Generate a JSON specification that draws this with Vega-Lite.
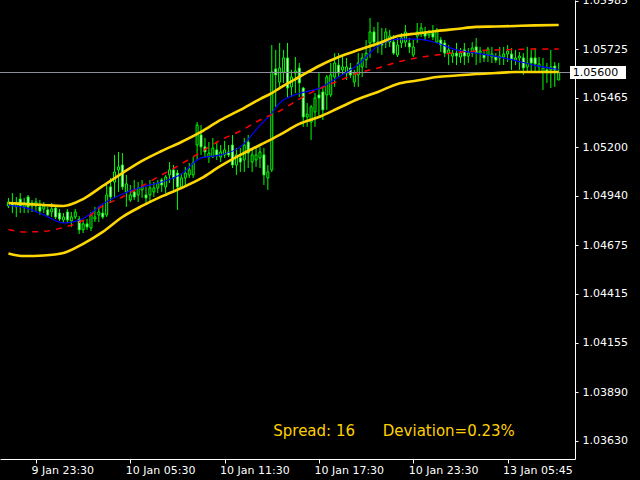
{
  "$schema": "https://vega.github.io/schema/vega-lite/v6.json",
  "width": 575,
  "height": 459,
  "padding": {"left": 0, "top": 0, "right": 65, "bottom": 21},
  "autosize": {"type": "none"},
  "background": "black",
  "config": {"view": {"stroke": null}, "font": "DejaVu Sans"},
  "datasets": {
    "candles": [
      {"i":1,"o":1.04886,"h":1.04929,"l":1.04875,"c":1.04907},
      {"i":2,"o":1.04902,"h":1.04955,"l":1.04848,"c":1.04886},
      {"i":3,"o":1.04881,"h":1.04934,"l":1.04827,"c":1.04902},
      {"i":4,"o":1.04923,"h":1.04955,"l":1.04848,"c":1.04886},
      {"i":5,"o":1.04881,"h":1.04929,"l":1.04848,"c":1.04902},
      {"i":6,"o":1.04934,"h":1.04945,"l":1.04848,"c":1.04881},
      {"i":7,"o":1.04886,"h":1.04918,"l":1.04854,"c":1.04902},
      {"i":8,"o":1.04886,"h":1.04929,"l":1.04854,"c":1.04907},
      {"i":9,"o":1.04881,"h":1.04918,"l":1.04838,"c":1.04859},
      {"i":10,"o":1.04870,"h":1.04907,"l":1.04848,"c":1.04886},
      {"i":11,"o":1.04865,"h":1.04881,"l":1.04827,"c":1.04838},
      {"i":12,"o":1.04854,"h":1.04902,"l":1.04827,"c":1.04870},
      {"i":13,"o":1.04875,"h":1.04886,"l":1.04816,"c":1.04827},
      {"i":14,"o":1.04848,"h":1.04870,"l":1.04806,"c":1.04816},
      {"i":15,"o":1.04811,"h":1.04848,"l":1.04795,"c":1.04827},
      {"i":16,"o":1.04854,"h":1.04870,"l":1.04795,"c":1.04811},
      {"i":17,"o":1.04806,"h":1.04854,"l":1.04774,"c":1.04827},
      {"i":18,"o":1.04827,"h":1.04870,"l":1.04816,"c":1.04854},
      {"i":19,"o":1.04816,"h":1.04832,"l":1.04736,"c":1.04758},
      {"i":20,"o":1.04758,"h":1.04811,"l":1.04741,"c":1.04790},
      {"i":21,"o":1.04790,"h":1.04816,"l":1.04758,"c":1.04774},
      {"i":22,"o":1.04768,"h":1.04854,"l":1.04752,"c":1.04838},
      {"i":23,"o":1.04816,"h":1.04881,"l":1.04800,"c":1.04827},
      {"i":24,"o":1.04838,"h":1.04886,"l":1.04800,"c":1.04854},
      {"i":25,"o":1.04848,"h":1.04891,"l":1.04816,"c":1.04827},
      {"i":26,"o":1.04838,"h":1.04998,"l":1.04827,"c":1.04945},
      {"i":27,"o":1.04988,"h":1.05036,"l":1.04902,"c":1.04934},
      {"i":28,"o":1.05014,"h":1.05159,"l":1.04929,"c":1.05068},
      {"i":29,"o":1.05079,"h":1.05175,"l":1.04961,"c":1.05095},
      {"i":30,"o":1.05105,"h":1.05169,"l":1.04972,"c":1.04988},
      {"i":31,"o":1.04961,"h":1.05052,"l":1.04881,"c":1.05004},
      {"i":32,"o":1.04918,"h":1.04998,"l":1.04907,"c":1.04945},
      {"i":33,"o":1.04961,"h":1.05025,"l":1.04918,"c":1.04934},
      {"i":34,"o":1.04945,"h":1.05014,"l":1.04907,"c":1.04982},
      {"i":35,"o":1.04972,"h":1.05025,"l":1.04929,"c":1.04988},
      {"i":36,"o":1.04945,"h":1.04988,"l":1.04902,"c":1.04929},
      {"i":37,"o":1.04945,"h":1.05025,"l":1.04902,"c":1.04982},
      {"i":38,"o":1.04961,"h":1.05014,"l":1.04934,"c":1.04982},
      {"i":39,"o":1.04982,"h":1.05025,"l":1.04955,"c":1.05009},
      {"i":40,"o":1.05025,"h":1.05036,"l":1.04961,"c":1.04998},
      {"i":41,"o":1.04988,"h":1.05052,"l":1.04955,"c":1.05041},
      {"i":42,"o":1.05052,"h":1.05121,"l":1.05009,"c":1.05079},
      {"i":43,"o":1.05079,"h":1.05105,"l":1.04972,"c":1.05036},
      {"i":44,"o":1.05062,"h":1.05079,"l":1.04865,"c":1.04988},
      {"i":45,"o":1.04988,"h":1.05062,"l":1.04982,"c":1.05036},
      {"i":46,"o":1.05036,"h":1.05095,"l":1.04988,"c":1.05062},
      {"i":47,"o":1.05052,"h":1.05116,"l":1.05036,"c":1.05079},
      {"i":48,"o":1.05052,"h":1.05148,"l":1.05036,"c":1.05116},
      {"i":49,"o":1.05212,"h":1.05335,"l":1.05132,"c":1.05319},
      {"i":50,"o":1.05266,"h":1.05319,"l":1.05159,"c":1.05202},
      {"i":51,"o":1.05202,"h":1.05250,"l":1.05148,"c":1.05175},
      {"i":52,"o":1.05148,"h":1.05228,"l":1.05116,"c":1.05169},
      {"i":53,"o":1.05148,"h":1.05250,"l":1.05143,"c":1.05196},
      {"i":54,"o":1.05186,"h":1.05228,"l":1.05132,"c":1.05159},
      {"i":55,"o":1.05148,"h":1.05212,"l":1.05121,"c":1.05175},
      {"i":56,"o":1.05159,"h":1.05234,"l":1.05143,"c":1.05186},
      {"i":57,"o":1.05175,"h":1.05212,"l":1.05148,"c":1.05159},
      {"i":58,"o":1.05212,"h":1.05266,"l":1.05089,"c":1.05105},
      {"i":59,"o":1.05105,"h":1.05196,"l":1.05052,"c":1.05159},
      {"i":60,"o":1.05143,"h":1.05196,"l":1.05068,"c":1.05121},
      {"i":61,"o":1.05132,"h":1.05250,"l":1.05068,"c":1.05212},
      {"i":62,"o":1.05228,"h":1.05266,"l":1.05089,"c":1.05169},
      {"i":63,"o":1.05121,"h":1.05186,"l":1.05068,"c":1.05159},
      {"i":64,"o":1.05132,"h":1.05196,"l":1.05095,"c":1.05159},
      {"i":65,"o":1.05143,"h":1.05202,"l":1.05089,"c":1.05175},
      {"i":66,"o":1.05159,"h":1.05196,"l":1.04998,"c":1.05052},
      {"i":67,"o":1.05036,"h":1.05105,"l":1.04972,"c":1.05068},
      {"i":68,"o":1.05079,"h":1.05747,"l":1.05068,"c":1.05603},
      {"i":69,"o":1.05619,"h":1.05721,"l":1.05416,"c":1.05587},
      {"i":70,"o":1.05549,"h":1.05758,"l":1.05523,"c":1.05624},
      {"i":71,"o":1.05603,"h":1.05721,"l":1.05544,"c":1.05678},
      {"i":72,"o":1.05678,"h":1.05758,"l":1.05469,"c":1.05517},
      {"i":73,"o":1.05523,"h":1.05614,"l":1.05469,"c":1.05576},
      {"i":74,"o":1.05597,"h":1.05683,"l":1.05490,"c":1.05608},
      {"i":75,"o":1.05624,"h":1.05651,"l":1.05469,"c":1.05544},
      {"i":76,"o":1.05517,"h":1.05523,"l":1.05309,"c":1.05362},
      {"i":77,"o":1.05362,"h":1.05437,"l":1.05309,"c":1.05378},
      {"i":78,"o":1.05335,"h":1.05426,"l":1.05239,"c":1.05416},
      {"i":79,"o":1.05389,"h":1.05490,"l":1.05309,"c":1.05464},
      {"i":80,"o":1.05480,"h":1.05597,"l":1.05362,"c":1.05464},
      {"i":81,"o":1.05496,"h":1.05523,"l":1.05346,"c":1.05400},
      {"i":82,"o":1.05480,"h":1.05587,"l":1.05400,"c":1.05576},
      {"i":83,"o":1.05480,"h":1.05651,"l":1.05469,"c":1.05587},
      {"i":84,"o":1.05576,"h":1.05704,"l":1.05523,"c":1.05651},
      {"i":85,"o":1.05640,"h":1.05704,"l":1.05576,"c":1.05597},
      {"i":86,"o":1.05614,"h":1.05683,"l":1.05587,"c":1.05630},
      {"i":87,"o":1.05597,"h":1.05678,"l":1.05560,"c":1.05630},
      {"i":88,"o":1.05624,"h":1.05651,"l":1.05571,"c":1.05587},
      {"i":89,"o":1.05549,"h":1.05614,"l":1.05523,"c":1.05597},
      {"i":90,"o":1.05587,"h":1.05704,"l":1.05523,"c":1.05651},
      {"i":91,"o":1.05630,"h":1.05704,"l":1.05576,"c":1.05678},
      {"i":92,"o":1.05667,"h":1.05774,"l":1.05624,"c":1.05704},
      {"i":93,"o":1.05758,"h":1.05892,"l":1.05678,"c":1.05817},
      {"i":94,"o":1.05817,"h":1.05844,"l":1.05737,"c":1.05763},
      {"i":95,"o":1.05747,"h":1.05870,"l":1.05704,"c":1.05763},
      {"i":96,"o":1.05763,"h":1.05838,"l":1.05694,"c":1.05747},
      {"i":97,"o":1.05763,"h":1.05838,"l":1.05731,"c":1.05817},
      {"i":98,"o":1.05763,"h":1.05828,"l":1.05737,"c":1.05795},
      {"i":99,"o":1.05763,"h":1.05801,"l":1.05694,"c":1.05704},
      {"i":100,"o":1.05694,"h":1.05785,"l":1.05683,"c":1.05747},
      {"i":101,"o":1.05758,"h":1.05811,"l":1.05731,"c":1.05785},
      {"i":102,"o":1.05763,"h":1.05854,"l":1.05737,"c":1.05817},
      {"i":103,"o":1.05758,"h":1.05785,"l":1.05704,"c":1.05737},
      {"i":104,"o":1.05694,"h":1.05774,"l":1.05683,"c":1.05737},
      {"i":105,"o":1.05795,"h":1.05865,"l":1.05758,"c":1.05817},
      {"i":106,"o":1.05811,"h":1.05865,"l":1.05790,"c":1.05838},
      {"i":107,"o":1.05817,"h":1.05844,"l":1.05774,"c":1.05795},
      {"i":108,"o":1.05801,"h":1.05828,"l":1.05785,"c":1.05817},
      {"i":109,"o":1.05811,"h":1.05854,"l":1.05774,"c":1.05790},
      {"i":110,"o":1.05763,"h":1.05838,"l":1.05758,"c":1.05828},
      {"i":111,"o":1.05774,"h":1.05790,"l":1.05710,"c":1.05747},
      {"i":112,"o":1.05758,"h":1.05774,"l":1.05683,"c":1.05704},
      {"i":113,"o":1.05704,"h":1.05747,"l":1.05640,"c":1.05721},
      {"i":114,"o":1.05688,"h":1.05721,"l":1.05651,"c":1.05704},
      {"i":115,"o":1.05704,"h":1.05758,"l":1.05640,"c":1.05688},
      {"i":116,"o":1.05683,"h":1.05731,"l":1.05651,"c":1.05704},
      {"i":117,"o":1.05721,"h":1.05758,"l":1.05640,"c":1.05688},
      {"i":118,"o":1.05688,"h":1.05731,"l":1.05651,"c":1.05704},
      {"i":119,"o":1.05704,"h":1.05763,"l":1.05683,"c":1.05731},
      {"i":120,"o":1.05737,"h":1.05785,"l":1.05640,"c":1.05704},
      {"i":121,"o":1.05704,"h":1.05737,"l":1.05651,"c":1.05715},
      {"i":122,"o":1.05694,"h":1.05721,"l":1.05656,"c":1.05678},
      {"i":123,"o":1.05694,"h":1.05737,"l":1.05656,"c":1.05726},
      {"i":124,"o":1.05683,"h":1.05737,"l":1.05651,"c":1.05699},
      {"i":125,"o":1.05683,"h":1.05704,"l":1.05651,"c":1.05667},
      {"i":126,"o":1.05678,"h":1.05737,"l":1.05640,"c":1.05688},
      {"i":127,"o":1.05683,"h":1.05737,"l":1.05640,"c":1.05699},
      {"i":128,"o":1.05699,"h":1.05747,"l":1.05656,"c":1.05715},
      {"i":129,"o":1.05699,"h":1.05731,"l":1.05614,"c":1.05672},
      {"i":130,"o":1.05667,"h":1.05721,"l":1.05640,"c":1.05678},
      {"i":131,"o":1.05678,"h":1.05710,"l":1.05614,"c":1.05688},
      {"i":132,"o":1.05678,"h":1.05704,"l":1.05587,"c":1.05624},
      {"i":133,"o":1.05630,"h":1.05737,"l":1.05603,"c":1.05651},
      {"i":134,"o":1.05678,"h":1.05721,"l":1.05597,"c":1.05651},
      {"i":135,"o":1.05678,"h":1.05731,"l":1.05597,"c":1.05646},
      {"i":136,"o":1.05630,"h":1.05683,"l":1.05603,"c":1.05646},
      {"i":137,"o":1.05603,"h":1.05678,"l":1.05507,"c":1.05624},
      {"i":138,"o":1.05614,"h":1.05651,"l":1.05544,"c":1.05603},
      {"i":139,"o":1.05614,"h":1.05721,"l":1.05517,"c":1.05630},
      {"i":140,"o":1.05635,"h":1.05656,"l":1.05523,"c":1.05614},
      {"i":141,"o":1.05560,"h":1.05651,"l":1.05560,"c":1.05600}
    ],
    "ind": [
      {"i":1,"u":1.04902,"lo":1.04632,"f":1.04889,"s":1.04760},
      {"i":5,"u":1.04897,"lo":1.04618,"f":1.04878,"s":1.04747},
      {"i":10,"u":1.04891,"lo":1.04621,"f":1.04838,"s":1.04750},
      {"i":15,"u":1.04886,"lo":1.04634,"f":1.04795,"s":1.04771},
      {"i":20,"u":1.04923,"lo":1.04683,"f":1.04819,"s":1.04808},
      {"i":25,"u":1.04993,"lo":1.04747,"f":1.04897,"s":1.04886},
      {"i":30,"u":1.05062,"lo":1.04827,"f":1.04950,"s":1.04934},
      {"i":35,"u":1.05127,"lo":1.04886,"f":1.04988,"s":1.04993},
      {"i":40,"u":1.05180,"lo":1.04937,"f":1.05014,"s":1.05052},
      {"i":45,"u":1.05228,"lo":1.04982,"f":1.05057,"s":1.05111},
      {"i":50,"u":1.05282,"lo":1.05033,"f":1.05143,"s":1.05175},
      {"i":55,"u":1.05346,"lo":1.05100,"f":1.05159,"s":1.05239},
      {"i":60,"u":1.05400,"lo":1.05159,"f":1.05202,"s":1.05287},
      {"i":65,"u":1.05458,"lo":1.05212,"f":1.05317,"s":1.05346},
      {"i":68,"u":1.05490,"lo":1.05244,"f":1.05383,"s":1.05375},
      {"i":70,"u":1.05517,"lo":1.05266,"f":1.05437,"s":1.05394},
      {"i":75,"u":1.05576,"lo":1.05325,"f":1.05488,"s":1.05458},
      {"i":80,"u":1.05635,"lo":1.05362,"f":1.05515,"s":1.05512},
      {"i":85,"u":1.05683,"lo":1.05410,"f":1.05576,"s":1.05555},
      {"i":90,"u":1.05721,"lo":1.05458,"f":1.05643,"s":1.05597},
      {"i":95,"u":1.05755,"lo":1.05496,"f":1.05742,"s":1.05624},
      {"i":100,"u":1.05795,"lo":1.05539,"f":1.05779,"s":1.05656},
      {"i":105,"u":1.05809,"lo":1.05557,"f":1.05779,"s":1.05678},
      {"i":110,"u":1.05822,"lo":1.05576,"f":1.05758,"s":1.05694},
      {"i":115,"u":1.05833,"lo":1.05584,"f":1.05721,"s":1.05707},
      {"i":120,"u":1.05844,"lo":1.05592,"f":1.05704,"s":1.05715},
      {"i":125,"u":1.05846,"lo":1.05597,"f":1.05686,"s":1.05721},
      {"i":130,"u":1.05849,"lo":1.05603,"f":1.05664,"s":1.05723},
      {"i":135,"u":1.05852,"lo":1.05603,"f":1.05638,"s":1.05726},
      {"i":141,"u":1.05854,"lo":1.05603,"f":1.05616,"s":1.05726}
    ],
    "bid": [{"price": 1.056, "label": "1.05600"}]
  },
  "layer": [
    {
      "data": {"name": "candles"},
      "mark": {"type": "rule", "color": "#00FF00", "strokeWidth": 1},
      "encoding": {
        "x": {
          "field": "i", "type": "quantitative",
          "scale": {"domain": [0.125, 143.875], "nice": false, "zero": false},
          "axis": {
            "values": [8, 32, 56, 80, 104, 128],
            "labelExpr": "datum.value == 8 ? '9 Jan 23:30' : datum.value == 32 ? '10 Jan 05:30' : datum.value == 56 ? '10 Jan 11:30' : datum.value == 80 ? '10 Jan 17:30' : datum.value == 104 ? '10 Jan 23:30' : '13 Jan 05:45'",
            "title": null, "grid": false, "tickSize": 4, "labelPadding": 1, "labelOffset": -5,
            "labelAlign": "left", "labelBaseline": "top", "labelFlush": false, "labelOverlap": false, "labelBound": false,
            "labelColor": "white", "labelFont": "DejaVu Sans", "labelFontSize": 11,
            "domainColor": "white", "tickColor": "white"
          }
        },
        "y": {
          "field": "h", "type": "quantitative",
          "scale": {"domain": [1.03532, 1.05988], "nice": false, "zero": false},
          "axis": {
            "orient": "right",
            "values": [1.05985, 1.05725, 1.05465, 1.052, 1.0494, 1.04675, 1.04415, 1.04155, 1.0389, 1.0363],
            "format": ".5f", "title": null, "grid": false, "tickSize": 3, "labelPadding": 4,
            "labelFlush": false, "labelOverlap": false, "labelBound": false,
            "labelColor": "white", "labelFont": "DejaVu Sans", "labelFontSize": 11,
            "domainColor": "white", "tickColor": "white"
          }
        },
        "y2": {"field": "l"}
      }
    },
    {
      "data": {"name": "candles"},
      "mark": {"type": "bar", "width": 2, "stroke": "#00FF00", "strokeWidth": 1},
      "encoding": {
        "x": {"field": "i", "type": "quantitative"},
        "y": {"field": "o", "type": "quantitative"},
        "y2": {"field": "c"},
        "fill": {"condition": {"test": "datum.c < datum.o", "value": "white"}, "value": "black"}
      }
    },
    {
      "data": {"name": "bid"},
      "mark": {"type": "rule", "color": "#8C9099", "strokeWidth": 1},
      "encoding": {"y": {"field": "price", "type": "quantitative"}}
    },
    {
      "data": {"name": "ind"},
      "mark": {"type": "line", "color": "#0000FF", "strokeWidth": 1.2, "interpolate": "monotone"},
      "encoding": {"x": {"field": "i", "type": "quantitative"}, "y": {"field": "f", "type": "quantitative"}}
    },
    {
      "data": {"name": "ind"},
      "mark": {"type": "line", "color": "#FF0000", "strokeWidth": 1.5, "strokeDash": [6, 6], "interpolate": "monotone"},
      "encoding": {"x": {"field": "i", "type": "quantitative"}, "y": {"field": "s", "type": "quantitative"}}
    },
    {
      "data": {"name": "ind"},
      "mark": {"type": "line", "color": "#FFD700", "strokeWidth": 2.6, "interpolate": "monotone"},
      "encoding": {"x": {"field": "i", "type": "quantitative"}, "y": {"field": "u", "type": "quantitative"}}
    },
    {
      "data": {"name": "ind"},
      "mark": {"type": "line", "color": "#FFD700", "strokeWidth": 2.6, "interpolate": "monotone"},
      "encoding": {"x": {"field": "i", "type": "quantitative"}, "y": {"field": "lo", "type": "quantitative"}}
    },
    {
      "data": {"name": "bid"},
      "mark": {"type": "tick", "orient": "horizontal", "color": "white", "size": 56, "thickness": 13, "opacity": 1},
      "encoding": {"x": {"datum": 151, "type": "quantitative"}, "y": {"field": "price", "type": "quantitative"}}
    },
    {
      "data": {"name": "bid"},
      "mark": {"type": "text", "color": "black", "font": "DejaVu Sans", "fontSize": 11, "align": "left", "baseline": "middle"},
      "encoding": {"x": {"datum": 144.6, "type": "quantitative"}, "y": {"field": "price", "type": "quantitative"}, "text": {"field": "label"}}
    },
    {
      "data": {"values": [{"txt": "Spread: 16"}]},
      "mark": {"type": "text", "color": "#FFD000", "font": "DejaVu Sans", "fontSize": 15, "align": "left", "baseline": "middle"},
      "encoding": {"x": {"datum": 68.375, "type": "quantitative"}, "y": {"datum": 1.03682, "type": "quantitative"}, "text": {"field": "txt"}}
    },
    {
      "data": {"values": [{"txt": "Deviation=0.23%"}]},
      "mark": {"type": "text", "color": "#FFD000", "font": "DejaVu Sans", "fontSize": 15, "align": "left", "baseline": "middle"},
      "encoding": {"x": {"datum": 96.25, "type": "quantitative"}, "y": {"datum": 1.03682, "type": "quantitative"}, "text": {"field": "txt"}}
    }
  ]
}
